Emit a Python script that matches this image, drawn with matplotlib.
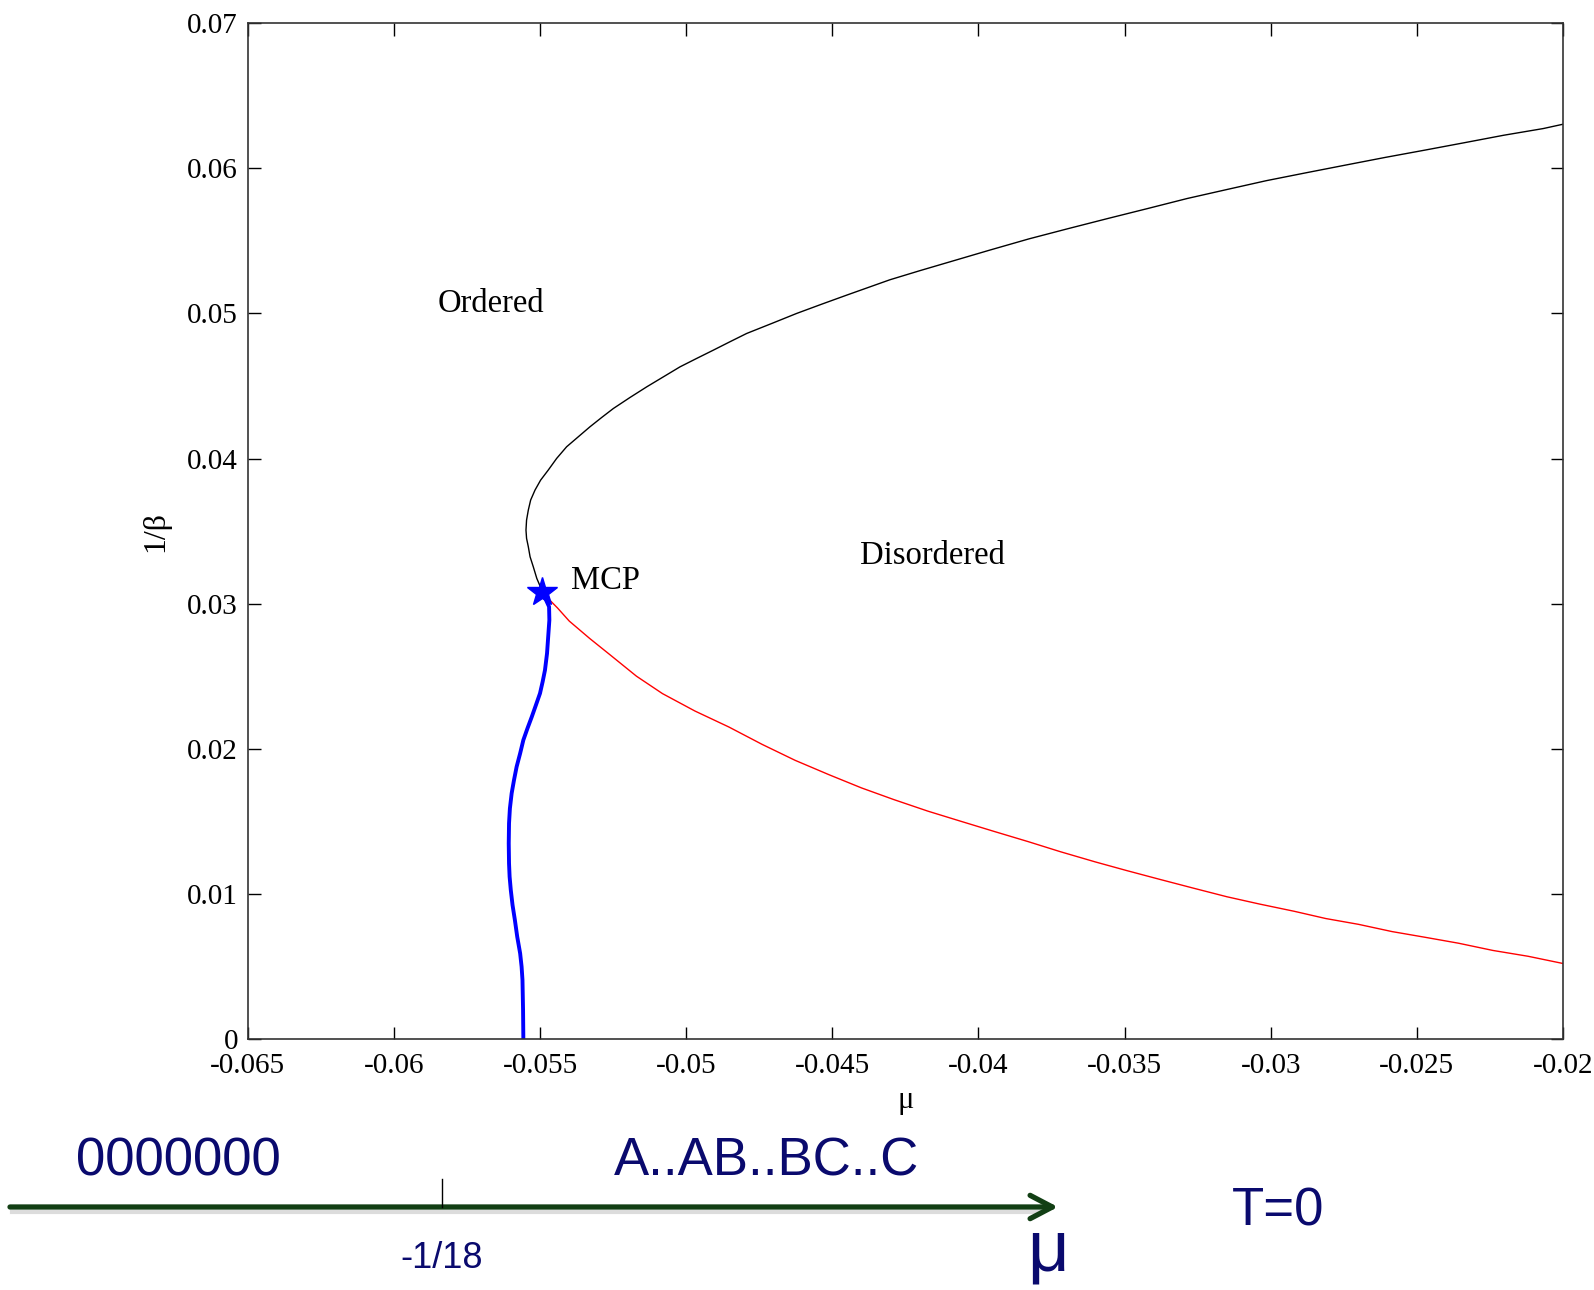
import matplotlib
matplotlib.use("Agg")
import matplotlib.pyplot as plt
from matplotlib.lines import Line2D
from matplotlib.patches import FancyArrowPatch

# ---------------- data ----------------
# upper (black) transition line: from MCP up and to the right
black_mu = [-0.05494, -0.05511, -0.05523, -0.05534, -0.05540, -0.05546, -0.05548,
            -0.05546, -0.05540, -0.05532, -0.05517, -0.05498, -0.05472, -0.05443,
            -0.05409, -0.05369, -0.05329, -0.05289, -0.05249, -0.05192, -0.05135,
            -0.05078, -0.05021, -0.04964, -0.04907, -0.04850, -0.04793, -0.04707,
            -0.04622, -0.04536, -0.04451, -0.04377, -0.04303, -0.04200, -0.04097,
            -0.03962, -0.03827, -0.03692, -0.03556, -0.03421, -0.03286, -0.03150,
            -0.03015, -0.02880, -0.02745, -0.02609, -0.02474, -0.02339, -0.02203,
            -0.02068, -0.02000]
black_T = [0.03094, 0.03174, 0.03254, 0.03323, 0.03392, 0.03450, 0.03507,
           0.03576, 0.03645, 0.03714, 0.03783, 0.03851, 0.03920, 0.04001,
           0.04081, 0.04150, 0.04219, 0.04283, 0.04345, 0.04421, 0.04494,
           0.04563, 0.04632, 0.04690, 0.04747, 0.04805, 0.04862, 0.04931,
           0.05000, 0.05064, 0.05126, 0.05179, 0.05232, 0.05295, 0.05356,
           0.05436, 0.05514, 0.05585, 0.05655, 0.05723, 0.05792, 0.05854,
           0.05915, 0.05969, 0.06022, 0.06075, 0.06125, 0.06176, 0.06228,
           0.06274, 0.06304]

# lower (red) transition line: from MCP down to the right
red_mu = [-0.05489, -0.05440, -0.05400, -0.05330, -0.05262, -0.05170, -0.05081,
          -0.04970, -0.04854, -0.04740, -0.04627, -0.04510, -0.04400, -0.04290,
          -0.04173, -0.04060, -0.03946, -0.03830, -0.03719, -0.03600, -0.03492,
          -0.03380, -0.03266, -0.03150, -0.03039, -0.02920, -0.02812, -0.02700,
          -0.02585, -0.02470, -0.02358, -0.02240, -0.02120, -0.02000]
red_T = [0.0307, 0.0297, 0.0288, 0.0276, 0.0265, 0.0250, 0.0238,
         0.0226, 0.0215, 0.0203, 0.0192, 0.0182, 0.0173, 0.0165,
         0.0157, 0.0150, 0.0143, 0.0136, 0.0129, 0.0122, 0.0116,
         0.0110, 0.0104, 0.0098, 0.0093, 0.0088, 0.0083, 0.0079,
         0.0074, 0.0070, 0.0066, 0.0061, 0.0057, 0.0052]

# blue first-order line: from MCP down to T=0
blue_mu = [-0.05492, -0.05469, -0.05468, -0.05472, -0.05476, -0.05483, -0.05491,
           -0.05500, -0.05514, -0.05528, -0.05543, -0.05557, -0.05568, -0.05580,
           -0.05589, -0.05597, -0.05603, -0.05606, -0.05607, -0.05606, -0.05604,
           -0.05600, -0.05594, -0.05586, -0.05578, -0.05568, -0.05563, -0.05560,
           -0.05558, -0.05557]
blue_T = [0.0308, 0.02979, 0.02887, 0.02772, 0.02657, 0.02542, 0.02462,
          0.02382, 0.02301, 0.02221, 0.02140, 0.02060, 0.01968, 0.01876,
          0.01784, 0.01693, 0.01589, 0.01486, 0.01348, 0.01210, 0.01118,
          0.01027, 0.00923, 0.00820, 0.00705, 0.00590, 0.00498, 0.00407,
          0.00200, 0.00000]

mcp_mu = [-0.05492]
mcp_T = [0.0308]

xticks = [-0.065, -0.06, -0.055, -0.05, -0.045, -0.04, -0.035, -0.03, -0.025, -0.02]
xtick_labels = ["-0.065", "-0.06", "-0.055", "-0.05", "-0.045", "-0.04", "-0.035",
                "-0.03", "-0.025", "-0.02"]
yticks = [0, 0.01, 0.02, 0.03, 0.04, 0.05, 0.06, 0.07]
ytick_labels = ["0", "0.01", "0.02", "0.03", "0.04", "0.05", "0.06", "0.07"]

# ---------------- figure ----------------
plt.rcParams['font.family'] = ['Liberation Serif', 'DejaVu Serif']
fig = plt.figure(figsize=(15.94, 12.90), dpi=100)
ax = fig.add_axes([0.1554, 0.1946, 0.8252, 0.7874])

ax.plot(black_mu, black_T, color='black', lw=1.0)
ax.plot(red_mu, red_T, color='red', lw=1.0)
ax.plot(blue_mu, blue_T, color='blue', lw=2.8, solid_capstyle='butt',
        solid_joinstyle='round')
ax.plot(mcp_mu, mcp_T, marker='*', color='blue', ms=22, ls='none')

ax.set_xlim(-0.065, -0.02)
ax.set_ylim(0, 0.07)
ax.set_xticks(xticks)
ax.set_xticklabels(xtick_labels)
ax.set_yticks(yticks)
ax.set_yticklabels(ytick_labels)
ax.tick_params(direction='in', length=9, width=1.0, top=True, right=True,
               labelsize=21, colors='black')
ax.tick_params(axis='x', pad=10)
ax.tick_params(axis='y', pad=7)
for s in ax.spines.values():
    s.set_linewidth(1.2)
    s.set_color('#333333')

ax.set_xlabel('μ', fontsize=22, labelpad=5)
ax.set_ylabel('1/β', fontsize=23, labelpad=12)

ax.text(-0.0585, 0.0501, 'Ordered', fontsize=23.5, ha='left', va='baseline')
ax.text(-0.04405, 0.0327, 'Disordered', fontsize=23.5, ha='left', va='baseline')
ax.text(-0.05395, 0.0310, 'MCP', fontsize=23.5, ha='left', va='baseline')

# ---------------- T = 0 axis below ----------------
navy = '#0a0a6e'
green = '#123f14'
sans = ['Liberation Sans', 'DejaVu Sans']

# faint shadow under the arrow
fig.add_artist(Line2D([12 / 1594, 1040 / 1594], [1 - 1212 / 1290, 1 - 1212 / 1290],
                      color='#dcdcdc', lw=3.0, transform=fig.transFigure, zorder=1))
arrow = FancyArrowPatch((10 / 1594, 1 - 1207 / 1290), (1058 / 1594, 1 - 1207 / 1290),
                        transform=fig.transFigure,
                        arrowstyle='->,head_length=0.8,head_width=0.42',
                        mutation_scale=20, color=green, lw=3.8,
                        shrinkA=0, shrinkB=0, zorder=2)
fig.add_artist(arrow)
fig.add_artist(Line2D([442 / 1594, 442 / 1594], [1 - 1179 / 1290, 1 - 1207 / 1290],
                      color='black', lw=1.0, transform=fig.transFigure, zorder=3))

fig.text(76 / 1594, 1 - 1176 / 1290, '0000000', color=navy, fontsize=38,
         family=sans, ha='left', va='baseline')
fig.text(614 / 1594, 1 - 1176 / 1290, 'A..AB..BC..C', color=navy, fontsize=38,
         family=sans, ha='left', va='baseline')
fig.text(1232 / 1594, 1 - 1225 / 1290, 'T=0', color=navy, fontsize=38,
         family=sans, ha='left', va='baseline')
fig.text(442 / 1594, 1 - 1268 / 1290, '-1/18', color=navy, fontsize=26,
         family=sans, ha='center', va='baseline')
fig.text(1048 / 1594, 1 - 1271 / 1290, 'μ', color=navy, fontsize=52,
         family=sans, ha='center', va='baseline')

fig.savefig('out.png', dpi=100)
